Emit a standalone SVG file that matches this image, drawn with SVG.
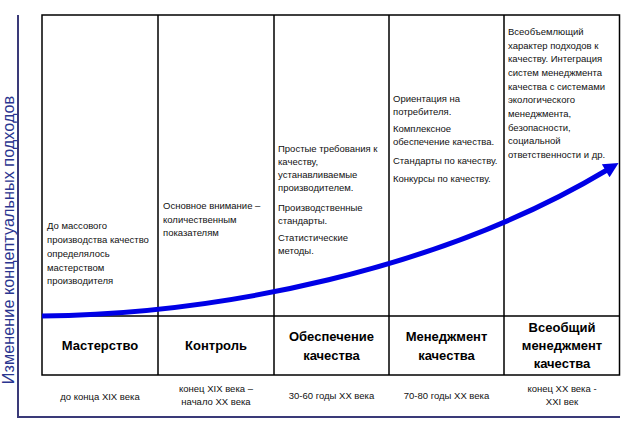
<svg xmlns="http://www.w3.org/2000/svg" width="621" height="441" viewBox="0 0 621 441">
<style>
.t{font-family:"Liberation Sans",Arial,sans-serif;font-size:9.5px;fill:#111}
.h{font-family:"Liberation Sans",Arial,sans-serif;font-size:13px;font-weight:bold;fill:#000;text-anchor:middle}
.d{font-family:"Liberation Sans",Arial,sans-serif;font-size:9.5px;fill:#111;text-anchor:middle}
.grid{stroke:#000;stroke-width:1.5;fill:none}
.axis{stroke:#3a3a78;stroke-width:2;fill:none}
</style>
<defs>
<marker id="ah" viewBox="0 0 10 10" refX="1" refY="5" markerWidth="19" markerHeight="15" markerUnits="userSpaceOnUse" orient="auto">
<path d="M0,0 L10,5 L0,10 z" fill="#0000e6"/>
</marker>
</defs>
<rect width="621" height="441" fill="#fff"/>
<g id="axes">
<path class="axis" d="M18,15 V417 H620"/>
<text transform="translate(14,240) rotate(-90)" text-anchor="middle" font-family="'Liberation Sans',Arial,sans-serif" font-size="16.3" fill="#2a3590">Изменение концептуальных подходов</text>
</g>
<g id="table">
<rect class="grid" x="42" y="15" width="577.5" height="360"/>
<path class="grid" d="M42,316 H620 M158,15 V375 M274,15 V375 M389,15 V375 M504,15 V375"/>
</g>
<g id="connectors">
<path d="M42,316 C220,314 440,270 607,170" fill="none" stroke="#0000e6" stroke-width="5" marker-end="url(#ah)"/>
</g>
<g id="node-masterstvo">
<text class="t" x="47" y="229">До массового</text>
<text class="t" x="47" y="243">производства качество</text>
<text class="t" x="47" y="257">определялось</text>
<text class="t" x="47" y="271">мастерством</text>
<text class="t" x="47" y="284">производителя</text>
<text class="h" x="100" y="350">Мастерство</text>
<text class="d" x="100" y="400">до конца XIX века</text>
</g>
<g id="node-kontrol">
<text class="t" x="163" y="209">Основное внимание –</text>
<text class="t" x="163" y="223">количественным</text>
<text class="t" x="163" y="236">показателям</text>
<text class="h" x="216" y="350">Контроль</text>
<text class="d" x="216" y="392">конец XIX века –</text>
<text class="d" x="216" y="405">начало XX века</text>
</g>
<g id="node-obespechenie">
<text class="t" x="278" y="152">Простые требования к</text>
<text class="t" x="278" y="165">качеству,</text>
<text class="t" x="278" y="178">устанавливаемые</text>
<text class="t" x="278" y="191">производителем.</text>
<text class="t" x="278" y="211">Производственные</text>
<text class="t" x="278" y="224">стандарты.</text>
<text class="t" x="278" y="241">Статистические</text>
<text class="t" x="278" y="254">методы.</text>
<text class="h" x="331.5" y="341">Обеспечение</text>
<text class="h" x="331.5" y="360">качества</text>
<text class="d" x="331.5" y="399">30-60 годы XX века</text>
</g>
<g id="node-menedzhment">
<text class="t" x="393" y="102">Ориентация на</text>
<text class="t" x="393" y="115">потребителя.</text>
<text class="t" x="393" y="132">Комплексное</text>
<text class="t" x="393" y="145">обеспечение качества.</text>
<text class="t" x="393" y="164">Стандарты по качеству.</text>
<text class="t" x="393" y="182">Конкурсы по качеству.</text>
<text class="h" x="446.5" y="341">Менеджмент</text>
<text class="h" x="446.5" y="360">качества</text>
<text class="d" x="446.5" y="399">70-80 годы XX века</text>
</g>
<g id="node-vseobshchiy">
<text class="t" x="508" y="35">Всеобъемлющий</text>
<text class="t" x="508" y="48.7">характер подходов к</text>
<text class="t" x="508" y="62.3">качеству. Интеграция</text>
<text class="t" x="508" y="76">систем менеджмента</text>
<text class="t" x="508" y="89.7">качества с системами</text>
<text class="t" x="508" y="103.3">экологического</text>
<text class="t" x="508" y="117">менеджмента,</text>
<text class="t" x="508" y="130.7">безопасности,</text>
<text class="t" x="508" y="144.3">социальной</text>
<text class="t" x="508" y="158">ответственности и др.</text>
<text class="h" x="562" y="332">Всеобщий</text>
<text class="h" x="562" y="350">менеджмент</text>
<text class="h" x="562" y="368">качества</text>
<text class="d" x="562" y="392">конец XX века -</text>
<text class="d" x="562" y="405">XXI век</text>
</g>
</svg>
